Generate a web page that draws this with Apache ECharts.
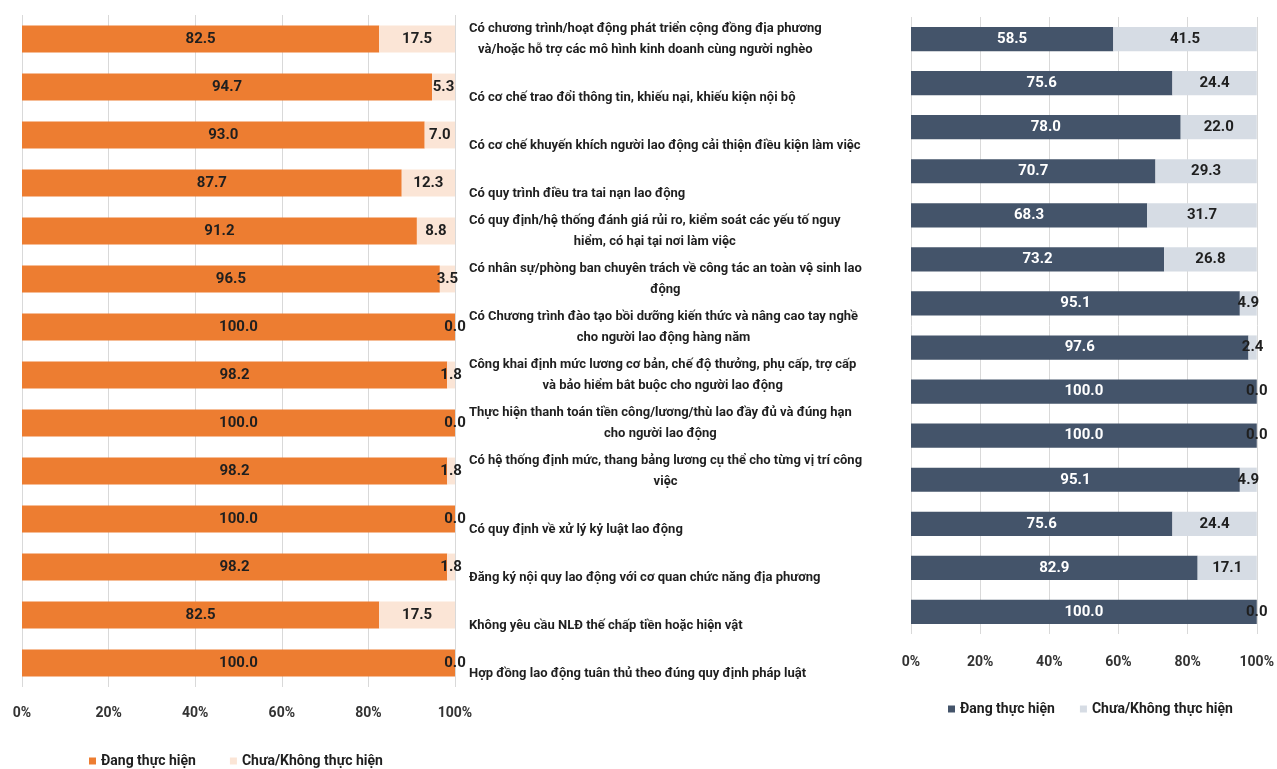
<!DOCTYPE html>
<html>
<head>
<meta charset="utf-8">
<script src="https://cdn.jsdelivr.net/npm/echarts@6/dist/echarts.min.js"></script>
<style>
  html, body { margin: 0; padding: 0; background: #fff; }
  #chart { width: 1277px; height: 769px; }
</style>
</head>
<body>
<div id="chart"></div>
<script>
// nhãn hạng mục (dùng chung cho cả hai biểu đồ)
var categories = [
  'Có chương trình/hoạt động phát triển cộng đồng địa phương\nvà/hoặc hỗ trợ các mô hình kinh doanh cùng người nghèo',
  'Có cơ chế trao đổi thông tin, khiếu nại, khiếu kiện nội bộ',
  'Có cơ chế khuyến khích người lao động cải thiện điều kiện làm việc',
  'Có quy trình điều tra tai nạn lao động',
  'Có quy định/hệ thống đánh giá rủi ro, kiểm soát các yếu tố nguy\nhiểm, có hại tại nơi làm việc',
  'Có nhân sự/phòng ban chuyên trách về công tác an toàn vệ sinh lao\nđộng',
  'Có Chương trình đào tạo bồi dưỡng kiến thức và nâng cao tay nghề\ncho người lao động hàng năm',
  'Công khai định mức lương cơ bản, chế độ thưởng, phụ cấp, trợ cấp\nvà bảo hiểm bắt buộc cho người lao động',
  'Thực hiện thanh toán tiền công/lương/thù lao đầy đủ và đúng hạn\ncho người lao động',
  'Có hệ thống định mức, thang bảng lương cụ thể cho từng vị trí công\nviệc',
  'Có quy định về xử lý kỷ luật lao động',
  'Đăng ký nội quy lao động với cơ quan chức năng địa phương',
  'Không yêu cầu NLĐ thế chấp tiền hoặc hiện vật',
  'Hợp đồng lao động tuân thủ theo đúng quy định pháp luật'
];

var seriesNames = ['Đang thực hiện', 'Chưa/Không thực hiện'];
var xTicks = [0, 20, 40, 60, 80, 100];

// biểu đồ bên trái
var leftDoing = [82.5, 94.7, 93.0, 87.7, 91.2, 96.5, 100.0, 98.2, 100.0, 98.2, 100.0, 98.2, 82.5, 100.0];
var leftNot = [17.5, 5.3, 7.0, 12.3, 8.8, 3.5, 0.0, 1.8, 0.0, 1.8, 0.0, 1.8, 17.5, 0.0];

// biểu đồ bên phải
var rightDoing = [58.5, 75.6, 78.0, 70.7, 68.3, 73.2, 95.1, 97.6, 100.0, 100.0, 95.1, 75.6, 82.9, 100.0];
var rightNot = [41.5, 24.4, 22.0, 29.3, 31.7, 26.8, 4.9, 2.4, 0.0, 0.0, 4.9, 24.4, 17.1, 0.0];

var FONT = "Roboto, 'Liberation Sans', sans-serif";
var colors = {
  orange: '#ED7D31', peach: '#FBE5D6',
  slate: '#44546A', mist: '#D6DCE4'
};

function xAxisCfg(gridIndex, margin) {
  return {
    type: 'value', gridIndex: gridIndex,
    min: xTicks[0], max: xTicks[xTicks.length - 1], interval: 20,
    axisLine: { show: false }, axisTick: { show: false },
    splitLine: { lineStyle: { color: '#D9D9D9', width: 1 } },
    axisLabel: {
      margin: margin, formatter: '{value}%',
      fontFamily: FONT, fontWeight: 'bold', fontSize: 14, color: '#333333'
    }
  };
}

function barSeries(name, data, axisIdx, color, labelColor, width) {
  return {
    name: name, type: 'bar', stack: 's' + axisIdx,
    xAxisIndex: axisIdx, yAxisIndex: axisIdx,
    barWidth: width, data: data,
    itemStyle: { color: color },
    label: {
      show: true, position: 'inside',
      formatter: function (p) { return p.value.toFixed(1); },
      fontFamily: FONT, fontWeight: 'bold', fontSize: 15, color: labelColor
    }
  };
}

var chart = echarts.init(document.getElementById('chart'));
chart.setOption({
  animation: false,
  grid: [
    { left: 22, right: 822, top: 15, height: 672 },
    { left: 911, right: 17, top: 17, height: 617 }
  ],
  xAxis: [xAxisCfg(0, 19), xAxisCfg(1, 21)],
  yAxis: [
    {
      type: 'category', gridIndex: 0, inverse: true, position: 'right',
      data: categories,
      axisLine: { show: false }, axisTick: { show: false },
      axisLabel: {
        margin: 14, align: 'left', interval: 0,
        fontFamily: FONT, fontWeight: 'bold', fontSize: 13, color: '#1f1f1f',
        formatter: function (v) {
          var lines = v.split('\n');
          // nhãn một dòng nằm ở dòng dưới, giống bản gốc
          if (lines.length === 1) lines.unshift(' ');
          return lines.map(function (l) { return '{c|' + l + '}'; }).join('\n');
        },
        rich: {
          c: {
            align: 'center', lineHeight: 21,
            fontFamily: FONT, fontWeight: 'bold', fontSize: 13, color: '#1f1f1f'
          }
        }
      }
    },
    {
      type: 'category', gridIndex: 1, inverse: true,
      data: categories,
      axisLine: { show: false }, axisTick: { show: false },
      axisLabel: { show: false }
    }
  ],
  legend: [
    {
      left: 84, top: 749, itemWidth: 7, itemHeight: 7, itemGap: 34,
      icon: 'rect',
      textStyle: { fontFamily: FONT, fontWeight: 'bold', fontSize: 14, color: '#1f1f1f' },
      data: [
        { name: seriesNames[0], itemStyle: { color: colors.orange } },
        { name: seriesNames[1], itemStyle: { color: colors.peach } }
      ]
    },
    {
      left: 943, top: 697, width: 330, itemWidth: 7, itemHeight: 7, itemGap: 25,
      icon: 'rect',
      textStyle: { fontFamily: FONT, fontWeight: 'bold', fontSize: 14, color: '#1f1f1f' },
      data: [
        { name: seriesNames[0], itemStyle: { color: colors.slate } },
        { name: seriesNames[1], itemStyle: { color: colors.mist } }
      ]
    }
  ],
  series: [
    barSeries(seriesNames[0], leftDoing, 0, colors.orange, '#1f1f1f', '56%'),
    barSeries(seriesNames[1], leftNot, 0, colors.peach, '#1f1f1f', '56%'),
    barSeries(seriesNames[0], rightDoing, 1, colors.slate, '#ffffff', '55%'),
    barSeries(seriesNames[1], rightNot, 1, colors.mist, '#1f1f1f', '55%')
  ]
});
</script>
</body>
</html>
